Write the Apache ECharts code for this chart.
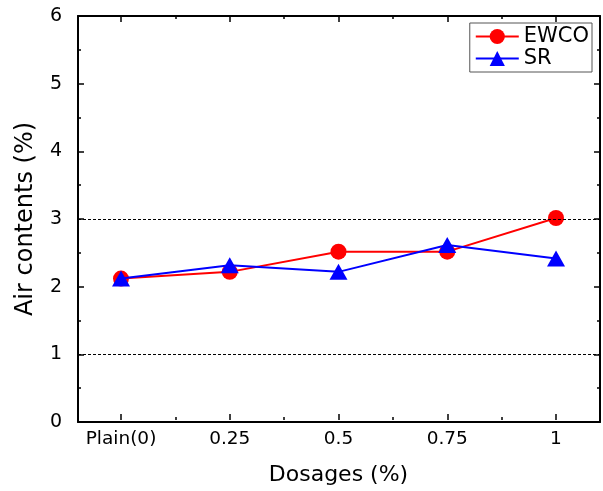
<!DOCTYPE html>
<html>
<head>
<meta charset="utf-8">
<script src="https://cdn.jsdelivr.net/npm/echarts@6/dist/echarts.min.js"></script>
<style>
  html, body { margin: 0; padding: 0; background: #fff; }
  #chart { width: 603px; height: 491px; }
</style>
</head>
<body>
<div id="chart"></div>
<script>
// categories on x (placed at index 0..4)
const categories = ['Plain(0)', '0.25', '0.5', '0.75', '1'];
const ewco = [2.1, 2.2, 2.5, 2.5, 3.0];
const sr = [2.1, 2.3, 2.2, 2.6, 2.4];
const refLines = [1, 3];
const yTicks = [0, 1, 2, 3, 4, 5, 6];

const chart = echarts.init(document.getElementById('chart'));
const font = "'DejaVu Sans', 'Liberation Sans', sans-serif";

const toPairs = arr => arr.map((v, i) => [i, v]);

const tickStyle = { show: true, inside: true, length: 6, lineStyle: { color: '#000', width: 1.5 } };
const minorStyle = { show: true, splitNumber: 2, length: 3, lineStyle: { color: '#000', width: 1.5 } };
const frameLine = { show: true, onZero: false, lineStyle: { color: '#000', width: 2 } };

const yMin = yTicks[0];
const yMax = yTicks[yTicks.length - 1];

// grid 0 = frame + y axes; grid 1 = data area (x from first to last category)
const option = {
  animation: false,
  backgroundColor: '#fff',
  textStyle: { fontFamily: font },
  grid: [
    { left: 78, right: 3, top: 16, bottom: 69 },
    { left: 121, right: 47, top: 16, bottom: 69 }
  ],
  legend: {
    right: 11,
    top: 23,
    orient: 'vertical',
    itemWidth: 43,
    itemHeight: 19,
    itemGap: 1,
    padding: [3, 3, 3, 5],
    borderColor: '#555',
    borderWidth: 1,
    backgroundColor: '#fff',
    textStyle: { fontSize: 21, color: '#000', fontFamily: font },
    data: ['EWCO', 'SR']
  },
  xAxis: [
    { gridIndex: 0, type: 'value', min: 0, max: 1, position: 'bottom', axisLine: frameLine,
      axisTick: { show: false }, axisLabel: { show: false }, splitLine: { show: false } },
    { gridIndex: 0, type: 'value', min: 0, max: 1, position: 'top', axisLine: frameLine,
      axisTick: { show: false }, axisLabel: { show: false }, splitLine: { show: false } },
    {
      gridIndex: 1, type: 'value', min: 0, max: categories.length - 1, interval: 1,
      position: 'bottom',
      axisLine: { show: false },
      axisTick: tickStyle, minorTick: minorStyle, splitLine: { show: false },
      name: 'Dosages (%)',
      nameLocation: 'middle',
      nameGap: 44,
      nameTextStyle: { fontSize: 22, color: '#000', fontFamily: font },
      axisLabel: {
        color: '#000', fontSize: 18.5, margin: 10, fontFamily: font,
        formatter: v => categories[Math.round(v)]
      }
    },
    {
      gridIndex: 1, type: 'value', min: 0, max: categories.length - 1, interval: 1,
      position: 'top',
      axisLine: { show: false },
      axisTick: tickStyle, minorTick: minorStyle, splitLine: { show: false },
      axisLabel: { show: false }
    }
  ],
  yAxis: [
    {
      gridIndex: 0, type: 'value', min: yMin, max: yMax, interval: 1, position: 'left',
      axisLine: frameLine, axisTick: tickStyle, minorTick: minorStyle, splitLine: { show: false },
      name: 'Air contents (%)',
      nameLocation: 'middle',
      nameGap: 40,
      nameTextStyle: { fontSize: 24, color: '#000', fontFamily: font },
      axisLabel: { color: '#000', fontSize: 19, margin: 16, fontFamily: font }
    },
    {
      gridIndex: 0, type: 'value', min: yMin, max: yMax, interval: 1, position: 'right',
      axisLine: frameLine, axisTick: tickStyle, minorTick: minorStyle, splitLine: { show: false },
      axisLabel: { show: false }
    },
    {
      gridIndex: 1, type: 'value', min: yMin, max: yMax, show: false
    }
  ],
  series: [
    {
      // reference lines across the whole frame
      name: 'ref',
      type: 'line',
      xAxisIndex: 0,
      yAxisIndex: 0,
      data: [],
      markLine: {
        silent: true,
        symbol: 'none',
        label: { show: false },
        lineStyle: { color: '#000', type: [3, 2], width: 1 },
        data: refLines.map(v => ({ yAxis: v }))
      }
    },
    {
      name: 'EWCO',
      type: 'line',
      xAxisIndex: 2,
      yAxisIndex: 2,
      data: toPairs(ewco),
      symbol: 'circle',
      symbolSize: 16,
      itemStyle: { color: '#ff0000' },
      lineStyle: { color: '#ff0000', width: 2 },
      z: 2
    },
    {
      name: 'SR',
      type: 'line',
      xAxisIndex: 2,
      yAxisIndex: 2,
      data: toPairs(sr),
      symbol: 'triangle',
      symbolSize: [18, 16],
      itemStyle: { color: '#0000ff' },
      lineStyle: { color: '#0000ff', width: 2 },
      z: 3
    }
  ]
};

chart.setOption(option);
</script>
</body>
</html>
